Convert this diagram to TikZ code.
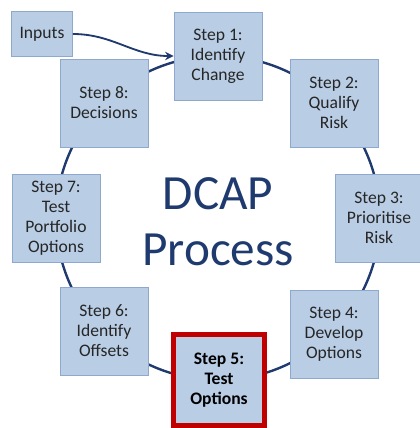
\documentclass[tikz,border=0pt]{standalone}
\usepackage{fontspec}
\setmainfont{Carlito}
\usepackage{xcolor}
\usetikzlibrary{arrows.meta,shadows}

\definecolor{navy}{HTML}{1F3A6E}
\definecolor{boxfill}{HTML}{B9CDE5}
\definecolor{boxline}{HTML}{8FA8CF}
\definecolor{stepred}{HTML}{C00000}

\begin{document}
\begin{tikzpicture}[x=0.025cm,y=-0.025cm,
  stepbox/.style={draw=boxline,fill=boxfill,line width=0.6pt,
    minimum width=2.2cm,minimum height=2.2cm,align=center,
    text=black!85,font=\fontsize{12.5}{14.3}\selectfont,
    drop shadow={opacity=0.25,shadow xshift=0.6pt,shadow yshift=-0.6pt}},
  current/.style={draw=stepred,line width=3.5pt,text=black,
    font=\fontsize{12.5}{14.3}\selectfont\bfseries,
    minimum width=2.28cm,minimum height=2.28cm}]
\useasboundingbox (0,0) rectangle (420,428);
% ring behind the steps
\draw[navy,line width=1.7pt] (218,218) circle (162);
% steps round the ring
\node[stepbox] (s1) at (218,56)  {Step 1:\\Identify\\Change};
\node[stepbox] (s2) at (334,103) {Step 2:\\Qualify\\Risk};
\node[stepbox] (s3) at (379,218) {Step 3:\\Prioritise\\Risk};
\node[stepbox] (s4) at (334,334) {Step 4:\\Develop\\Options};
\node[stepbox,current] (s5) at (219,380) {Step 5:\\Test\\Options};
\node[stepbox] (s6) at (104,331) {Step 6:\\Identify\\Offsets};
\node[stepbox] (s7) at (56,218)  {Step 7:\\Test\\Portfolio\\Options};
\node[stepbox] (s8) at (104,103) {Step 8:\\Decisions};
% inputs feeding step 1
\node[stepbox,minimum width=1.52cm,minimum height=1.12cm] (inputs) at (42,34) {Inputs};
\draw[navy,line width=1.3pt,-{Stealth[length=6pt,width=6pt]}]
  (inputs.east) to[out=0,in=180] (s1.west);
% title in the middle
\node[navy,align=center,font=\fontsize{35}{40}\selectfont] (title) at (218,222) {DCAP\\Process};
\end{tikzpicture}
\end{document}
